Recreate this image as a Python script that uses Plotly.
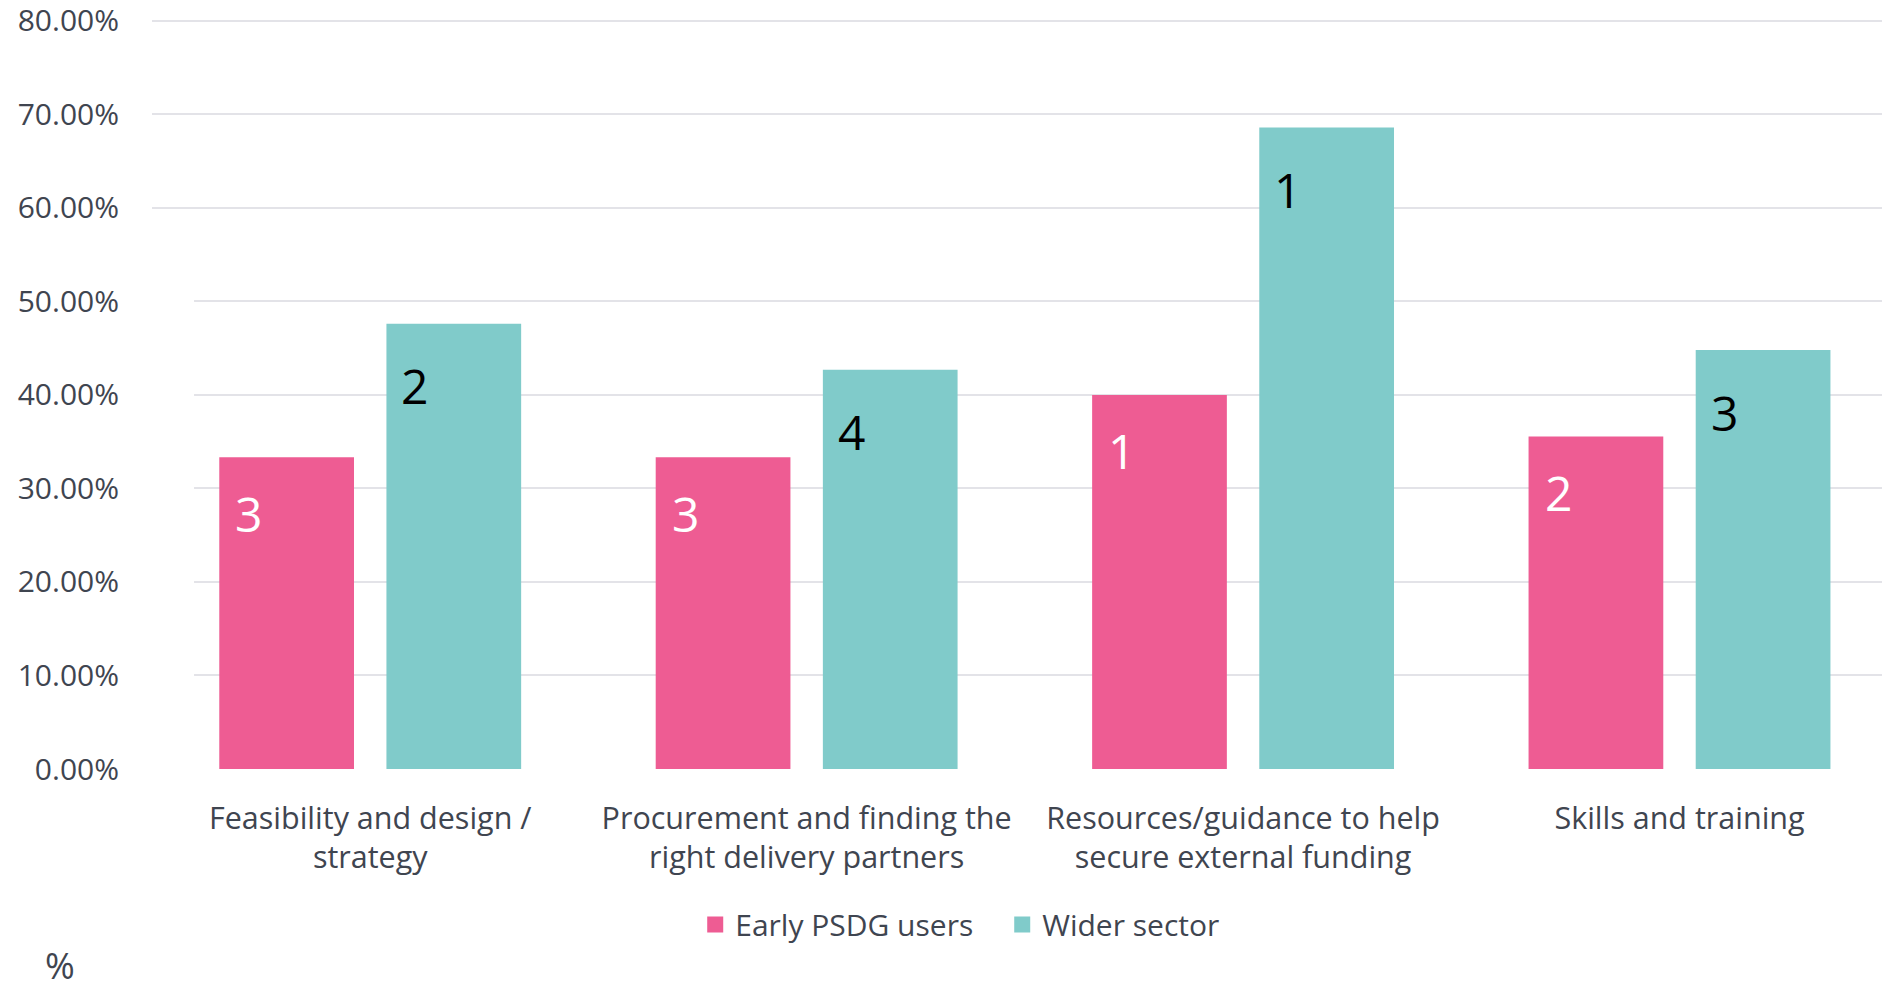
import plotly.graph_objects as go

categories = [
    "Feasibility and design /<br>strategy",
    "Procurement and finding the<br>right delivery partners",
    "Resources/guidance to help<br>secure external funding",
    "Skills and training",
]
early_values = [33.33, 33.33, 40.0, 35.56]
wider_values = [47.6, 42.7, 68.6, 44.8]
early_ranks = ["3", "3", "1", "2"]
wider_ranks = ["2", "4", "1", "3"]
y_ticks = [0, 10, 20, 30, 40, 50, 60, 70, 80]
y_ticktext = [f"{v:.2f}%" for v in y_ticks]

PINK = "#EE5C93"
TEAL = "#80CBCA"
TXT = "#3F4550"
FONT = "Open Sans, Noto Sans, sans-serif"

fig = go.Figure()
fig.add_trace(go.Bar(name="Early PSDG users", x=categories, y=early_values, showlegend=False,
                     marker=dict(color=PINK, line=dict(width=0))))
fig.add_trace(go.Bar(name="Wider sector", x=categories, y=wider_values, showlegend=False,
                     marker=dict(color=TEAL, line=dict(width=0))))
# legend entries with larger square swatches
fig.add_trace(go.Scatter(name="Early PSDG users", x=[None], y=[None], mode="markers",
                         marker=dict(symbol="square", size=19, color=PINK)))
fig.add_trace(go.Scatter(name="Wider sector", x=[None], y=[None], mode="markers",
                         marker=dict(symbol="square", size=19, color=TEAL)))

annotations = []
for cat, val, r in zip(categories, early_values, early_ranks):
    annotations.append(dict(x=cat, y=val, xref="x", yref="y", text=r, showarrow=False,
                            xanchor="left", yanchor="middle", xshift=-137, yshift=-56,
                            font=dict(size=48, color="white", family=FONT)))
for cat, val, r in zip(categories, wider_values, wider_ranks):
    annotations.append(dict(x=cat, y=val, xref="x", yref="y", text=r, showarrow=False,
                            xanchor="left", yanchor="middle", xshift=29, yshift=-62,
                            font=dict(size=48, color="black", family=FONT)))
annotations.append(dict(x=-0.053, y=-0.261, xref="paper", yref="paper", text="%",
                        showarrow=False, xanchor="center", yanchor="middle",
                        font=dict(size=36, color=TXT, family=FONT)))

fig.update_layout(
    width=1882, height=990,
    margin=dict(l=152, r=0, t=17.6, b=220.6, autoexpand=False),
    paper_bgcolor="white", plot_bgcolor="white",
    barmode="group", bargap=0.234, bargroupgap=0.194,
    font=dict(family=FONT, size=30, color=TXT),
    showlegend=True,
    legend=dict(orientation="h", x=0.314, xanchor="left", y=-0.207, yanchor="middle",
                font=dict(size=30, color=TXT), bgcolor="rgba(0,0,0,0)",
                entrywidth=262, entrywidthmode="pixels", itemwidth=30),
    annotations=annotations,
    shapes=[dict(type="rect", xref="paper", yref="y", x0=0, x1=0.0243, y0=-1, y1=55,
                 fillcolor="white", line=dict(width=0), layer="above")],
)
fig.update_xaxes(range=[-0.5, 3.464], showgrid=False, zeroline=False, showline=False,
                 ticks="outside", ticklen=22, tickcolor="rgba(0,0,0,0)",
                 tickfont=dict(size=30.5, color=TXT), automargin=False)
fig.update_yaxes(range=[0, 80.3], tickvals=y_ticks, ticktext=y_ticktext,
                 showgrid=True, gridcolor="#E3E3E8", gridwidth=2,
                 zeroline=False, showline=False, ticklabeloverflow="allow",
                 ticks="outside", ticklen=26, tickcolor="rgba(0,0,0,0)",
                 tickfont=dict(size=30, color=TXT), automargin=False)

fig.write_html("out.html", config={"displayModeBar": False},
               post_script="document.body.style.margin='0';document.body.style.padding='0';")
